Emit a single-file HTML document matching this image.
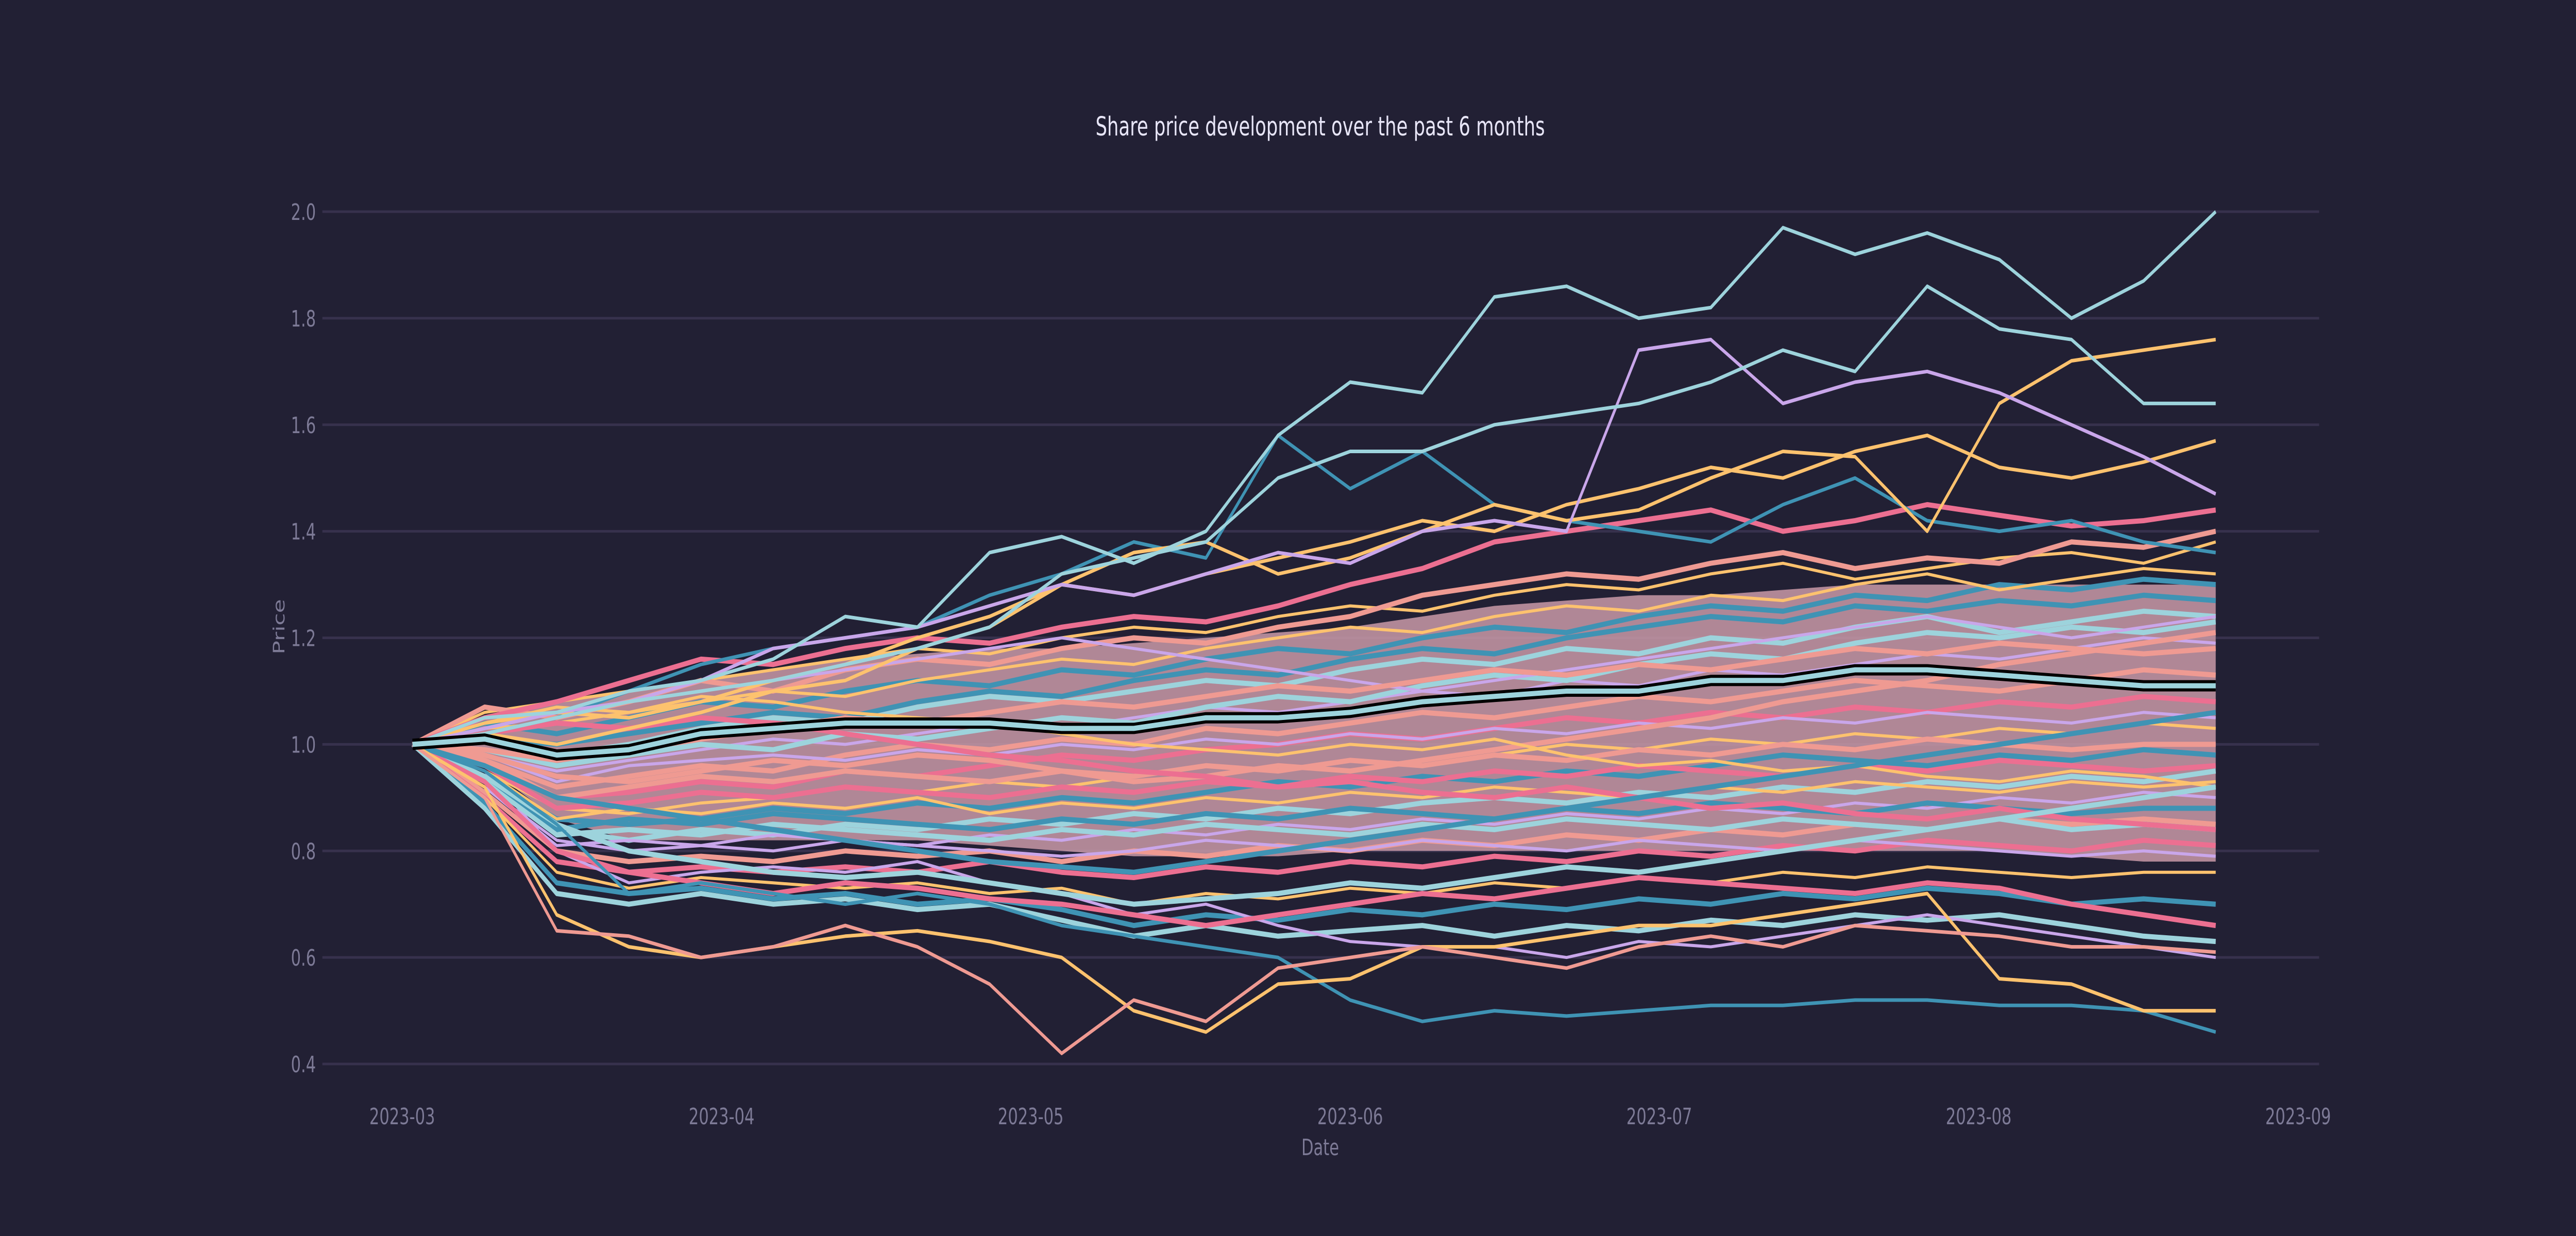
<!DOCTYPE html>
<html><head><meta charset="utf-8">
<style>
html,body{margin:0;padding:0;background:#222034;width:100%;height:100%;overflow:hidden;}
svg{display:block;width:100%;height:100%;}
text{font-family:"DejaVu Sans","Liberation Sans",sans-serif;}
</style></head>
<body>
<svg id="chart" viewBox="0 0 7200 2400" preserveAspectRatio="none" xmlns="http://www.w3.org/2000/svg">
<rect x="0" y="0" width="7200" height="2400" fill="#222034"/>
<text x="3690" y="263" font-size="51" fill="#e8e6f8" text-anchor="middle">Share price development over the past 6 months</text>
<g id="grid"></g>
<g id="yticks"></g>
<g id="xticks"></g>
<text x="3690" y="2243" font-size="44" fill="#7d7a96" text-anchor="middle">Date</text>
<text transform="translate(795,1217) rotate(-90)" font-size="44" fill="#7d7a96" text-anchor="middle">Price</text>
<g id="band"></g>
<g id="lines"></g>
</svg>
<script>
// ---- data ----
const yTicks = [0.4,0.6,0.8,1.0,1.2,1.4,1.6,1.8,2.0];
const xTickLabels = ["2023-03","2023-04","2023-05","2023-06","2023-07","2023-08","2023-09"];
const xTickDays = [-1,30,60,91,121,152,183]; // days after 2023-03-02
const sampleDays = [0,7,14,21,28,35,42,49,56,63,70,77,84,91,98,105,112,119,126,133,140,147,154,161,168,175];
const bandUpper = [1.0,1.05,1.08,1.10,1.12,1.14,1.16,1.17,1.18,1.18,1.19,1.20,1.21,1.22,1.24,1.26,1.27,1.28,1.28,1.29,1.30,1.30,1.30,1.30,1.30,1.30];
const bandLower = [1.0,0.96,0.86,0.82,0.82,0.82,0.82,0.82,0.81,0.80,0.79,0.79,0.79,0.80,0.80,0.80,0.80,0.80,0.80,0.80,0.80,0.80,0.80,0.79,0.78,0.78];
const m1=[1,1.06,1.08,1.10,1.12,1.14,1.16,1.18,1.17,1.20,1.22,1.21,1.24,1.26,1.25,1.28,1.30,1.29,1.32,1.34,1.31,1.33,1.35,1.36,1.34,1.38];
const m2=[1,1.04,1.02,1.05,1.08,1.07,1.10,1.12,1.11,1.14,1.13,1.16,1.18,1.17,1.20,1.22,1.21,1.24,1.26,1.25,1.28,1.27,1.30,1.29,1.31,1.30];
const m3=[1,1.02,0.98,1.0,1.03,1.05,1.04,1.07,1.09,1.08,1.10,1.12,1.11,1.14,1.16,1.15,1.18,1.17,1.20,1.19,1.22,1.24,1.21,1.23,1.25,1.24];
const m4=[1,0.98,0.95,0.97,0.99,1.01,1.0,1.02,1.04,1.03,1.05,1.07,1.06,1.08,1.10,1.09,1.12,1.11,1.14,1.13,1.15,1.17,1.16,1.18,1.20,1.19];
const m5=[1,0.97,0.92,0.94,0.96,0.95,0.98,1.0,0.99,1.01,1.0,1.03,1.02,1.04,1.06,1.05,1.07,1.09,1.08,1.10,1.12,1.11,1.10,1.12,1.14,1.13];
const m6=[1,0.96,0.90,0.91,0.93,0.92,0.95,0.94,0.96,0.98,0.97,0.99,1.0,1.02,1.01,1.03,1.05,1.04,1.06,1.05,1.07,1.06,1.08,1.07,1.09,1.08];
const m7=[1,0.95,0.88,0.87,0.89,0.90,0.92,0.91,0.93,0.92,0.94,0.96,0.95,0.97,0.96,0.98,1.0,0.99,1.01,1.0,1.02,1.01,1.03,1.02,1.04,1.03];
const m8=[1,0.94,0.86,0.85,0.86,0.88,0.87,0.89,0.88,0.90,0.89,0.91,0.93,0.92,0.94,0.93,0.95,0.94,0.96,0.98,0.97,0.96,0.98,0.97,0.99,0.98];
const m9=[1,0.93,0.84,0.82,0.84,0.83,0.85,0.84,0.86,0.85,0.87,0.86,0.88,0.87,0.89,0.90,0.89,0.91,0.90,0.92,0.91,0.93,0.92,0.94,0.93,0.95];
const m10=[1,0.92,0.82,0.80,0.81,0.80,0.82,0.81,0.83,0.82,0.84,0.83,0.85,0.84,0.86,0.85,0.87,0.86,0.88,0.87,0.89,0.88,0.90,0.89,0.91,0.90];
const m11=[1,0.91,0.80,0.78,0.79,0.78,0.80,0.79,0.80,0.78,0.80,0.79,0.81,0.80,0.82,0.81,0.83,0.82,0.84,0.83,0.85,0.84,0.86,0.85,0.86,0.85];
const m12=[1,0.90,0.78,0.76,0.77,0.76,0.77,0.76,0.78,0.76,0.75,0.77,0.76,0.78,0.77,0.79,0.78,0.80,0.79,0.81,0.80,0.82,0.81,0.80,0.82,0.81];
const m13=[1,0.90,0.76,0.73,0.75,0.74,0.73,0.74,0.72,0.73,0.70,0.72,0.71,0.73,0.72,0.74,0.73,0.75,0.74,0.76,0.75,0.77,0.76,0.75,0.76,0.76];
const m14=[1,0.89,0.74,0.72,0.73,0.71,0.72,0.70,0.71,0.69,0.66,0.68,0.67,0.69,0.68,0.70,0.69,0.71,0.70,0.72,0.71,0.73,0.72,0.70,0.71,0.70];
const m15=[1,0.88,0.72,0.70,0.72,0.70,0.71,0.69,0.70,0.67,0.64,0.66,0.64,0.65,0.66,0.64,0.66,0.65,0.67,0.66,0.68,0.67,0.68,0.66,0.64,0.63];
const m16=[1,0.95,0.80,0.74,0.76,0.77,0.76,0.78,0.74,0.72,0.68,0.70,0.66,0.63,0.62,0.62,0.60,0.63,0.62,0.64,0.66,0.68,0.66,0.64,0.62,0.60];
const m17=[1,1.07,1.05,1.08,1.12,1.10,1.14,1.16,1.15,1.18,1.20,1.19,1.22,1.24,1.28,1.30,1.32,1.31,1.34,1.36,1.33,1.35,1.34,1.38,1.37,1.40];
const m18=[1,1.05,1.08,1.12,1.16,1.15,1.18,1.20,1.19,1.22,1.24,1.23,1.26,1.30,1.33,1.38,1.40,1.42,1.44,1.40,1.42,1.45,1.43,1.41,1.42,1.44];
const m19=[1,1.03,1.04,1.06,1.08,1.10,1.09,1.12,1.14,1.16,1.15,1.18,1.20,1.22,1.21,1.24,1.26,1.25,1.28,1.27,1.30,1.32,1.29,1.31,1.33,1.32];
const m20=[1,1.01,1.0,1.02,1.04,1.06,1.05,1.08,1.10,1.09,1.12,1.14,1.13,1.16,1.18,1.17,1.20,1.22,1.24,1.23,1.26,1.25,1.27,1.26,1.28,1.27];
const m21=[1,0.99,0.96,0.98,1.0,0.99,1.02,1.01,1.03,1.05,1.04,1.07,1.09,1.08,1.11,1.13,1.12,1.15,1.17,1.16,1.19,1.21,1.20,1.22,1.21,1.23];
const m22=[1,0.98,0.93,0.96,0.97,0.98,0.97,0.99,0.98,1.0,0.99,1.01,1.0,1.02,1.01,1.03,1.02,1.04,1.03,1.05,1.04,1.06,1.05,1.04,1.06,1.05];
const m23=[1,0.97,0.90,0.92,0.94,0.93,0.95,0.94,0.93,0.95,0.94,0.96,0.95,0.97,0.96,0.98,0.97,0.99,0.98,1.0,0.99,1.01,1.0,0.99,1.0,1.0];
const m24=[1,0.96,0.88,0.89,0.91,0.90,0.92,0.91,0.90,0.92,0.91,0.93,0.92,0.94,0.93,0.95,0.94,0.96,0.95,0.94,0.96,0.95,0.97,0.96,0.95,0.96];
const m25=[1,0.95,0.86,0.88,0.87,0.89,0.88,0.90,0.87,0.89,0.88,0.90,0.89,0.91,0.90,0.92,0.91,0.90,0.92,0.91,0.93,0.92,0.91,0.93,0.92,0.93];
const m26=[1,0.94,0.84,0.86,0.85,0.87,0.86,0.85,0.84,0.86,0.85,0.87,0.86,0.88,0.87,0.86,0.88,0.87,0.89,0.88,0.87,0.89,0.88,0.87,0.88,0.88];
const m27=[1,0.93,0.83,0.84,0.83,0.85,0.84,0.83,0.82,0.84,0.83,0.85,0.84,0.83,0.85,0.84,0.86,0.85,0.84,0.86,0.85,0.84,0.86,0.84,0.85,0.84];
const m28=[1,0.92,0.81,0.82,0.81,0.83,0.82,0.81,0.80,0.79,0.80,0.82,0.81,0.80,0.82,0.81,0.80,0.82,0.81,0.80,0.82,0.81,0.80,0.79,0.80,0.79];
const m29=[1,0.98,0.94,0.93,0.95,0.97,0.96,0.98,0.97,0.95,0.93,0.94,0.96,0.95,0.97,0.99,1.01,1.03,1.05,1.08,1.10,1.12,1.15,1.17,1.19,1.21];
const m30=[1,1.02,1.04,1.03,1.05,1.04,1.02,1.0,0.98,0.97,0.95,0.94,0.92,0.93,0.91,0.90,0.92,0.90,0.88,0.89,0.87,0.86,0.88,0.86,0.85,0.84];
const m31=[1,1.04,1.07,1.06,1.09,1.08,1.06,1.05,1.04,1.02,1.0,0.99,0.98,1.0,0.99,1.01,0.98,0.96,0.97,0.95,0.96,0.94,0.93,0.95,0.94,0.92];
const m32=[1,0.96,0.90,0.88,0.86,0.84,0.82,0.80,0.78,0.77,0.76,0.78,0.80,0.82,0.84,0.86,0.88,0.90,0.92,0.94,0.96,0.98,1.0,1.02,1.04,1.06];
const m33=[1,0.94,0.85,0.80,0.78,0.76,0.75,0.76,0.74,0.72,0.70,0.71,0.72,0.74,0.73,0.75,0.77,0.76,0.78,0.80,0.82,0.84,0.86,0.88,0.90,0.92];
const m34=[1,1.03,1.06,1.08,1.10,1.12,1.14,1.16,1.18,1.20,1.18,1.16,1.14,1.12,1.10,1.12,1.14,1.16,1.18,1.20,1.22,1.24,1.22,1.20,1.22,1.24];
const m35=[1,0.99,0.97,0.99,1.01,1.03,1.05,1.04,1.06,1.08,1.07,1.09,1.11,1.10,1.12,1.14,1.13,1.15,1.14,1.16,1.18,1.17,1.19,1.18,1.17,1.18];
const m36=[1,0.93,0.80,0.76,0.74,0.72,0.74,0.73,0.71,0.70,0.68,0.66,0.68,0.70,0.72,0.71,0.73,0.75,0.74,0.73,0.72,0.74,0.73,0.70,0.68,0.66];
const s6=[1.0,1.02,1.05,1.1,1.15,1.18,1.2,1.22,1.28,1.32,1.38,1.35,1.58,1.48,1.55,1.45,1.42,1.40,1.38,1.45,1.50,1.42,1.40,1.42,1.38,1.36];
const s5=[1.0,1.04,1.06,1.05,1.08,1.12,1.15,1.20,1.24,1.30,1.28,1.32,1.35,1.38,1.42,1.40,1.45,1.48,1.52,1.50,1.55,1.58,1.52,1.50,1.53,1.57];
const s4=[1.0,1.02,1.0,1.03,1.06,1.10,1.12,1.18,1.22,1.30,1.36,1.38,1.32,1.35,1.40,1.45,1.42,1.44,1.50,1.55,1.54,1.40,1.64,1.72,1.74,1.76];
const s3=[1.0,1.03,1.06,1.08,1.12,1.18,1.20,1.22,1.26,1.30,1.28,1.32,1.36,1.34,1.40,1.42,1.40,1.74,1.76,1.64,1.68,1.70,1.66,1.60,1.54,1.47];
const s2=[1.0,1.02,1.05,1.08,1.10,1.12,1.15,1.18,1.22,1.32,1.35,1.38,1.50,1.55,1.55,1.60,1.62,1.64,1.68,1.74,1.70,1.86,1.78,1.76,1.64,1.64];
const s1=[1.0,1.05,1.06,1.10,1.12,1.16,1.24,1.22,1.36,1.39,1.34,1.40,1.58,1.68,1.66,1.84,1.86,1.80,1.82,1.97,1.92,1.96,1.91,1.80,1.87,2.00];
const s7=[1.0,0.95,0.85,0.72,0.74,0.72,0.70,0.72,0.70,0.66,0.64,0.62,0.60,0.52,0.48,0.50,0.49,0.50,0.51,0.51,0.52,0.52,0.51,0.51,0.50,0.46];
const s8=[1.0,0.92,0.68,0.62,0.60,0.62,0.64,0.65,0.63,0.60,0.50,0.46,0.55,0.56,0.62,0.62,0.64,0.66,0.66,0.68,0.70,0.72,0.56,0.55,0.50,0.50];
const s9=[1.0,0.90,0.65,0.64,0.60,0.62,0.66,0.62,0.55,0.42,0.52,0.48,0.58,0.60,0.62,0.60,0.58,0.62,0.64,0.62,0.66,0.65,0.64,0.62,0.62,0.61];
const medianSeries=[1.0,1.01,0.98,0.99,1.02,1.03,1.04,1.04,1.04,1.03,1.03,1.05,1.05,1.06,1.08,1.09,1.10,1.10,1.12,1.12,1.14,1.14,1.13,1.12,1.11,1.11];

// ---- axes ----
const NS="http://www.w3.org/2000/svg";
const X0=1153, PXDAY=28.8;
function xScale(d){return X0+d*PXDAY;}
function yScale(v){return 411+(2-v)*1034.4;}
const palette=['#9dd3dc','#3f93b4','#fdc26e','#ec6f91','#ef9a92','#c9a6ea'];

const grid=document.getElementById('grid');
const yt=document.getElementById('yticks');
yTicks.forEach(v=>{
  const l=document.createElementNS(NS,'line');
  l.setAttribute('x1',901);l.setAttribute('x2',6482);
  l.setAttribute('y1',yScale(v));l.setAttribute('y2',yScale(v));
  l.setAttribute('stroke','#37314d');l.setAttribute('stroke-width',5);
  
  
  grid.appendChild(l);
  const t=document.createElementNS(NS,'text');
  t.setAttribute('x',883);t.setAttribute('y',yScale(v)+16);
  t.setAttribute('font-size',44);t.setAttribute('fill','#7d7a96');t.setAttribute('text-anchor','end');
  t.textContent=v.toFixed(1);
  
  
  yt.appendChild(t);
});
const xt=document.getElementById('xticks');
xTickLabels.forEach((lab,i)=>{
  const t=document.createElementNS(NS,'text');
  t.setAttribute('x',xScale(xTickDays[i]));t.setAttribute('y',2183);
  t.setAttribute('font-size',44);t.setAttribute('fill','#7d7a96');t.setAttribute('text-anchor','middle');
  t.textContent=lab;
  
  
  xt.appendChild(t);
});

// ---- band ----
(function(){
  let d='';
  sampleDays.forEach((dd,i)=>{d+=(i?'L':'M')+xScale(dd)+','+yScale(bandUpper[i]);});
  for(let i=sampleDays.length-1;i>=0;i--){d+='L'+xScale(sampleDays[i])+','+yScale(bandLower[i]);}
  const p=document.createElementNS(NS,'path');
  p.setAttribute('d',d+'Z');p.setAttribute('fill','#c99aa8');p.setAttribute('opacity','0.85');
  
  
  document.getElementById('band').appendChild(p);
})();

// ---- lines ----
const linesG=document.getElementById('lines');
function pathFor(vals){return vals.map((v,i)=>(i?'L':'M')+xScale(sampleDays[i]).toFixed(1)+','+yScale(v).toFixed(1)).join('');}
function drawLine(vals,color,w,name){
  const p=document.createElementNS(NS,'path');
  p.setAttribute('d',pathFor(vals));p.setAttribute('fill','none');
  p.setAttribute('stroke',color);p.setAttribute('stroke-width',w);
  p.setAttribute('stroke-linejoin','round');
  
  
  linesG.appendChild(p);
}
const midSeries=[m1,m2,m3,m4,m5,m6,m7,m8,m9,m10,m11,m12,m13,m14,m15,m16,m17,m18,m19,m20,m21,m22,m23,m24,m25,m26,m27,m28,m29,m30,m31,m32,m33,m34,m35,m36];
midSeries.forEach((s,i)=>drawLine(s,palette[(i*5+2)%6],(i%3===0)?6:10,'series-line'));
const outliers=[s6,s5,s4,s3,s2,s1,s7,s8,s9];
const outColors=['#3f93b4','#fdc26e','#fdc26e','#c9a6ea','#9dd3dc','#9dd3dc','#3f93b4','#fdc26e','#ef9a92'];
outliers.forEach((s,i)=>drawLine(s,outColors[i],7,'outlier-series-line'));
drawLine(medianSeries,'#000000',22,'median-line-outline');
drawLine(medianSeries,'#9dd3dc',10,'median-line');
</script>
</body></html>
